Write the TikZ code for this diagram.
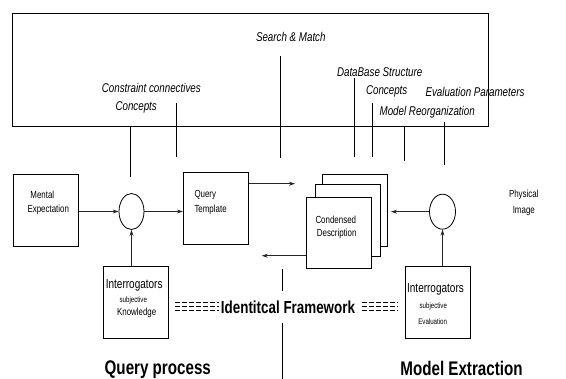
\documentclass[tikz,border=0pt]{standalone}
\usepackage{fontspec}
\setmainfont[FakeStretch=0.77]{Liberation Sans}
\usetikzlibrary{arrows.meta,shapes.geometric}
\tikzset{
  boxn/.style={draw, line width=0.8pt, inner sep=0pt, minimum width=65pt, minimum height=72pt},
  ringn/.style={draw, line width=0.8pt, ellipse, inner sep=0pt, minimum width=26pt, minimum height=36pt},
  arr/.style={line width=0.8pt, draw=black!85, -{Stealth[length=6pt,width=4pt]}},
  plain/.style={line width=0.7pt},
  ital/.style={inner sep=0pt, anchor=base, font=\fontsize{12.7}{14}\selectfont\itshape},
  txt/.style={inner sep=0pt, anchor=base, font=\fontsize{10.3}{12}\selectfont},
  tiny/.style={inner sep=0pt, anchor=base, font=\fontsize{8}{9}\selectfont},
  mid/.style={inner sep=0pt, anchor=base, font=\fontsize{13}{15}\selectfont},
  big/.style={inner sep=0pt, anchor=base, font=\fontsize{19.7}{22}\selectfont\bfseries},
  dashrow/.style={line width=0.6pt, dash pattern=on 5pt off 2pt}
}
\begin{document}
\begin{tikzpicture}[x=1pt,y=-1pt]
\useasboundingbox (0,0) rectangle (566,379);
% frame
\node[draw, line width=0.8pt, inner sep=0pt, minimum width=476.4pt, minimum height=112.7pt] (frame) at (250.5,69.65) {};
% boxes
\node[boxn, minimum height=72.7pt] (mental) at (45.8,210.35) {};
\node[boxn, minimum width=65.4pt] (qt) at (216,208.15) {};
\node[boxn, fill=white] (back) at (354.8,210.5) {};
\node[boxn, fill=white] (midb) at (348,220.85) {};
\node[boxn, fill=white, minimum width=65.4pt, minimum height=71.4pt] (front) at (339,233) {};
\node[boxn] (intL) at (135.8,302) {};
\node[boxn] (intR) at (438.2,302) {};
\node[ringn, minimum width=25pt] (circL) at (131.5,211.5) {};
\node[ringn, minimum height=35pt] (circR) at (442.5,211.7) {};
% texts in frame
\node[ital] (tsm) at (290.8,42) {Search \& Match};
\node[ital] (tcc) at (151.3,93) {Constraint connectives};
\node[ital] (tcl) at (136.2,110.5) {Concepts};
\node[ital] (tdb) at (379.7,77) {DataBase Structure};
\node[ital] (tcr) at (386.7,95) {Concepts};
\node[ital] (tep) at (475,97) {Evaluation Parameters};
\node[ital] (tmr) at (427.2,116) {Model Reorganization};
% box texts
\node[txt] (t1) at (42.3,198.3) {Mental};
\node[txt] (t2) at (48.3,212.5) {Expectation};
\node[txt, anchor=base west] (t3) at (194.3,198) {Query};
\node[txt, anchor=base west] (t4) at (194.3,213) {Template};
\node[txt] (t5) at (335.8,223.3) {Condensed};
\node[txt] (t6) at (336.7,236.5) {Description};
\node[txt] (t7) at (523.8,198) {Physical};
\node[txt] (t8) at (523.8,214) {Image};
\node[mid] (t9) at (134.2,289) {Interrogators};
\node[tiny] (t10) at (133.3,302.3) {subjective};
\node[txt] (t11) at (136.7,315.7) {Knowledge};
\node[mid] (t12) at (435.5,293) {Interrogators};
\node[tiny] (t13) at (433.3,308.5) {subjective};
\node[tiny] (t14) at (432.7,324.2) {Evaluation};
\node[big] (t15) at (157.8,374.5) {Query process};
\node[big] (t16) at (461.5,375.5) {Model Extraction};
\node[big, font=\fontsize{17.4}{20}\selectfont\bfseries] (t17) at (288,314) {Identitcal Framework};
% arrows
\draw[arr] (mental.east |- circL.west) -- (circL.west);
\draw[arr] (circL.east) -- (qt.west |- circL.east);
\draw[arr] (circL.south |- intL.north) -- (circL.south);
\coordinate (qtend) at (295,183.7);
\draw[arr] (qt.east |- qtend) -- (qtend);
\coordinate (frend) at (261.7,255.7);
\draw[arr] (front.west |- frend) -- (frend);
\coordinate (crend) at (391,211.7);
\draw[arr] (circR.west) -- (crend);
\draw[arr] (circR.south |- intR.north) -- (circR.south);
% label lines
\coordinate (a1) at (130.7,126); \coordinate (b1) at (130.7,177);
\coordinate (a2) at (176,103);   \coordinate (b2) at (176,157);
\coordinate (a3) at (280.3,56);  \coordinate (b3) at (280.3,158);
\coordinate (a4) at (354.3,78);  \coordinate (b4) at (354.3,157);
\coordinate (a5) at (372,103);   \coordinate (b5) at (372,157);
\coordinate (a6) at (404.3,126); \coordinate (b6) at (404.3,161);
\coordinate (a7) at (444.3,122); \coordinate (b7) at (444.3,165);
\coordinate (a8) at (282.5,269.3); \coordinate (b8) at (282.5,291);
\coordinate (a9) at (282.5,323.3); \coordinate (b9) at (282.5,380);
\foreach \i in {1,...,9} { \draw[plain] (a\i) -- (b\i); }
% dashed framework rows
\foreach \y [count=\k] in {302.5,306.5,310.5} {
  \coordinate (dl\k) at (175.3,\y); \coordinate (dr\k) at (219,\y);
  \coordinate (el\k) at (361.7,\y); \coordinate (er\k) at (397,\y);
  \draw[dashrow] (dl\k) -- (dr\k);
  \draw[dashrow] (el\k) -- (er\k);
}
\end{tikzpicture}
\end{document}
